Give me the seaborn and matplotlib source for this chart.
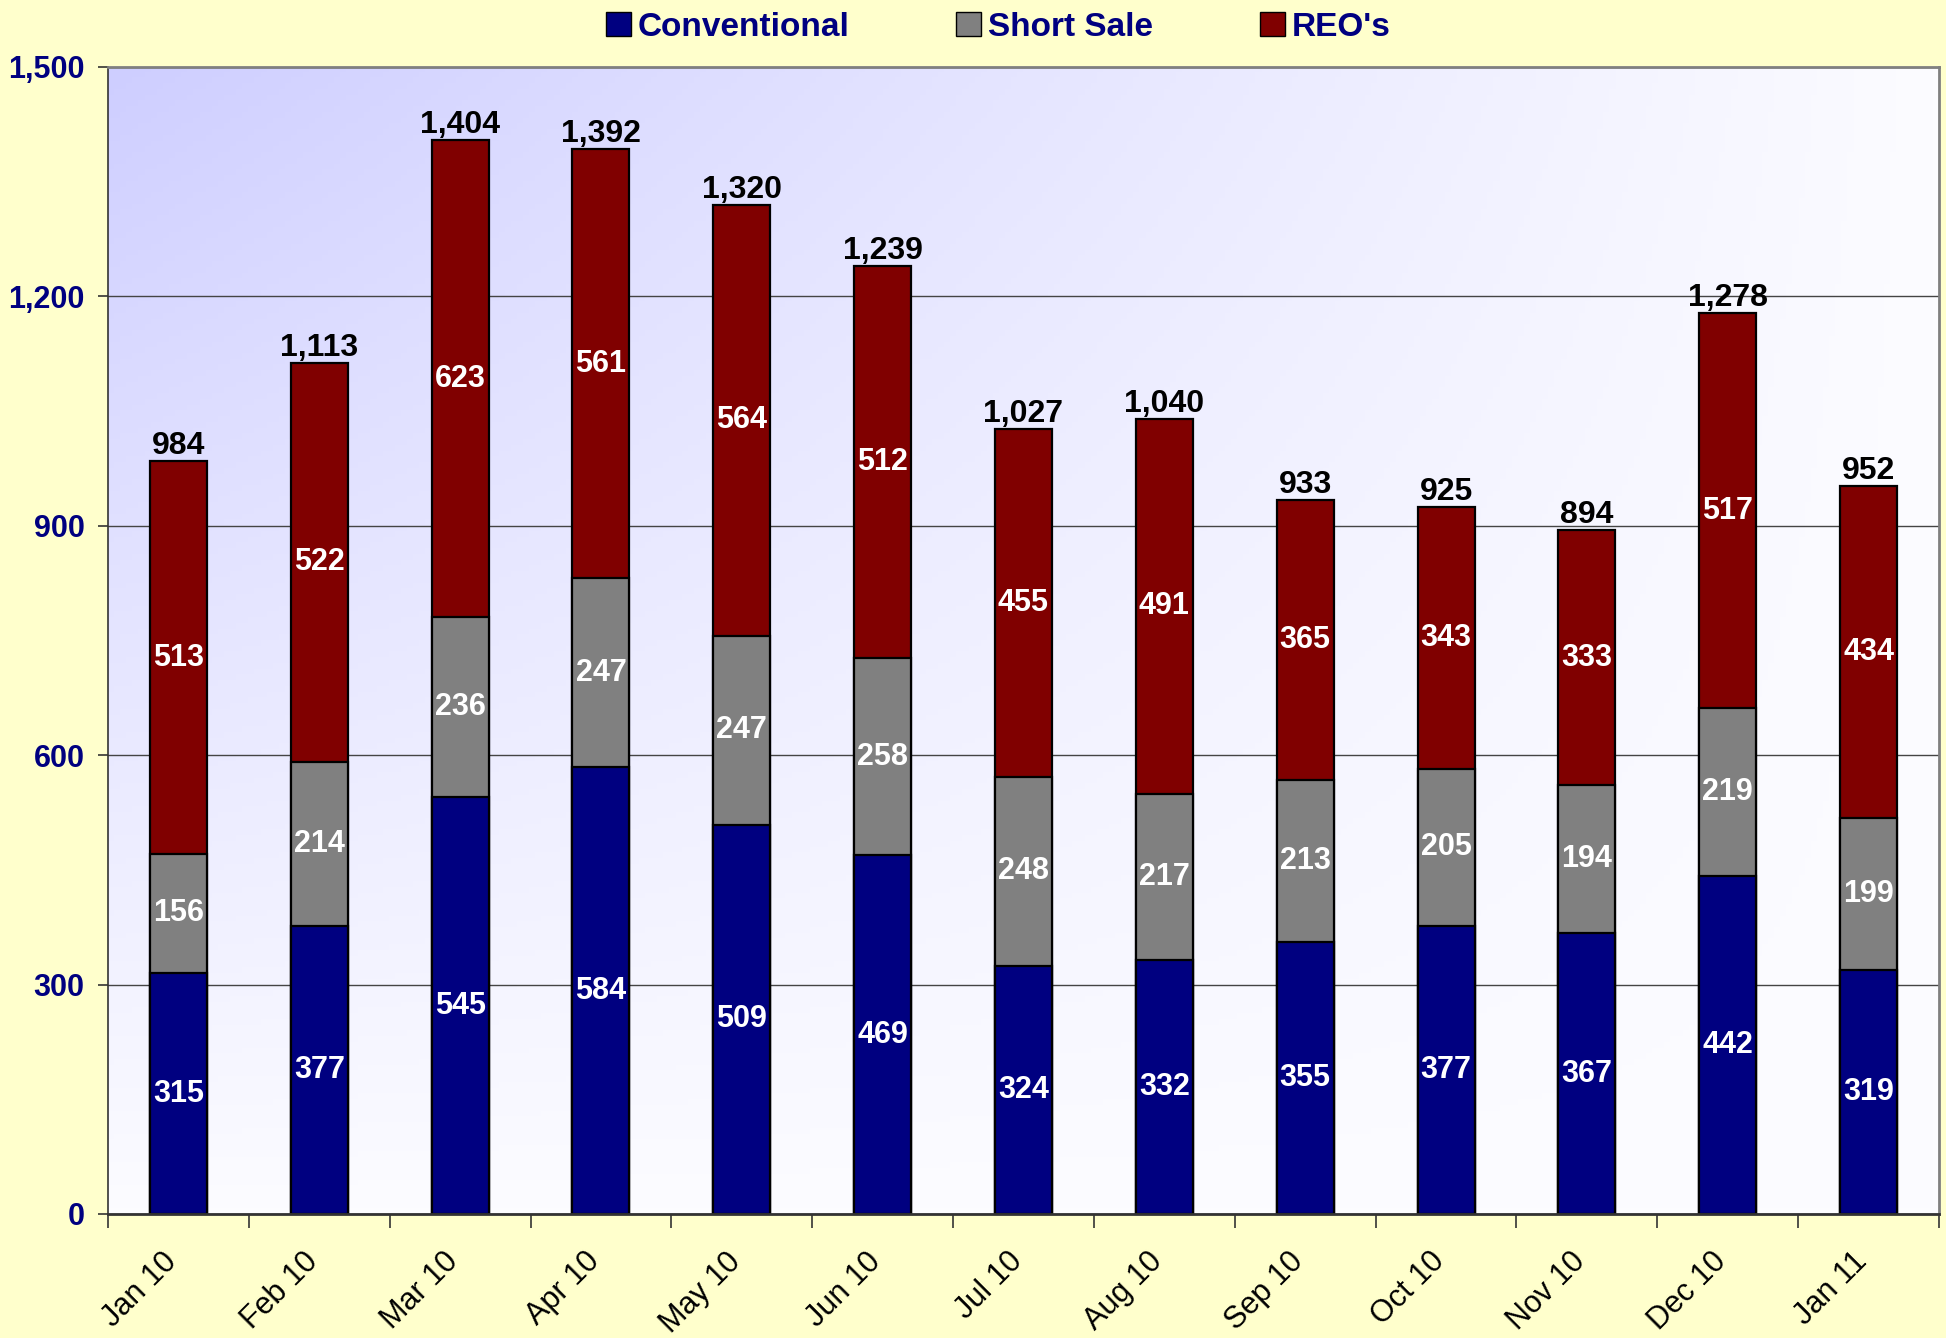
import numpy as np
import pandas as pd
import matplotlib
matplotlib.use("Agg")
import matplotlib.pyplot as plt
from matplotlib.patches import Patch
from matplotlib.ticker import FuncFormatter
from matplotlib.transforms import ScaledTranslation
import seaborn as sns

# data
months = ["Jan 10", "Feb 10", "Mar 10", "Apr 10", "May 10", "Jun 10", "Jul 10",
          "Aug 10", "Sep 10", "Oct 10", "Nov 10", "Dec 10", "Jan 11"]
conventional = [315, 377, 545, 584, 509, 469, 324, 332, 355, 377, 367, 442, 319]
short_sale = [156, 214, 236, 247, 247, 258, 248, 217, 213, 205, 194, 219, 199]
reos = [513, 522, 623, 561, 564, 512, 455, 491, 365, 343, 333, 517, 434]
# total labels as printed on the chart (Dec 10 label differs from the sum)
total_labels = [984, 1113, 1404, 1392, 1320, 1239, 1027, 1040, 933, 925, 894, 1278, 952]

NAVY = "#000080"
GREY = "#808080"
MAROON = "#800000"

sns.set_style("white")
plt.rcParams["font.family"] = ["Liberation Sans", "DejaVu Sans"]

df = pd.DataFrame({"month": months, "conv": conventional, "short": short_sale, "reo": reos})
df["conv_short"] = df["conv"] + df["short"]
df["top"] = df["conv_short"] + df["reo"]

fig = plt.figure(figsize=(19.46, 13.38), dpi=100, facecolor="#FFFFCC")
ax = fig.add_axes([0.0555, 0.0927, 0.9409, 0.8573])

# gradient plot background (lavender top-left fading to white)
h, w = 200, 300
u = np.linspace(0, 1, w)[None, :]
v = np.linspace(0, 1, h)[:, None]
t = 1 - (1 - u) * (1 - v)
c0 = np.array([206, 206, 255]) / 255
c1 = np.array([252, 252, 255]) / 255
grad = c0[None, None, :] * (1 - t[..., None]) + c1[None, None, :] * t[..., None]
ax.imshow(grad, extent=(-0.5, 12.5, 0, 1500), aspect="auto", origin="upper", zorder=0)

bar_kw = dict(width=0.405, edgecolor="black", linewidth=1.6, saturation=1, ax=ax, zorder=2)
sns.barplot(data=df, x="month", y="top", color=MAROON, **bar_kw)
sns.barplot(data=df, x="month", y="conv_short", color=GREY, **bar_kw)
sns.barplot(data=df, x="month", y="conv", color=NAVY, **bar_kw)

ax.set_xlim(-0.5, 12.5)
ax.set_ylim(0, 1500)
ax.set_xlabel("")
ax.set_ylabel("")

# segment labels
for i, row in df.iterrows():
    ax.text(i, row["conv"] / 2, f"{row['conv']}", ha="center", va="center",
            color="white", fontsize=22, fontweight="bold", zorder=4)
    ax.text(i, row["conv"] + row["short"] / 2, f"{row['short']}", ha="center", va="center",
            color="white", fontsize=22, fontweight="bold", zorder=4)
    ax.text(i, row["conv_short"] + row["reo"] / 2, f"{row['reo']}", ha="center", va="center",
            color="white", fontsize=22, fontweight="bold", zorder=4)
    ax.text(i, row["top"], f"{total_labels[i]:,}", ha="center", va="bottom",
            color="black", fontsize=23, fontweight="bold", zorder=4)

# y axis
ax.set_yticks([0, 300, 600, 900, 1200, 1500])
ax.yaxis.set_major_formatter(FuncFormatter(lambda val, pos: f"{int(val):,}"))
ax.tick_params(axis="y", which="major", length=7, width=1.2, color="#333333",
               labelsize=22, labelcolor=NAVY, pad=10, left=True)
for lab in ax.get_yticklabels():
    lab.set_fontweight("bold")
ax.yaxis.grid(True, color="#444444", linewidth=1.0)
ax.set_axisbelow(True)

# x axis: ticks at category boundaries, labels at centres
ax.set_xticks(np.arange(-0.5, 13, 1))
ax.set_xticklabels([])
ax.set_xticks(np.arange(len(months)), minor=True)
ax.set_xticklabels(months, minor=True, rotation=45, ha="right", va="center",
                   rotation_mode="anchor", fontsize=22, color="black")
ax.tick_params(axis="x", which="major", length=10, width=1.2, color="#333333", bottom=True)
ax.tick_params(axis="x", which="minor", length=0, pad=31)
shift = ScaledTranslation(-6 / 100, 0, fig.dpi_scale_trans)
for lab in ax.get_xticklabels(minor=True):
    lab.set_transform(lab.get_transform() + shift)

for side in ["top", "right"]:
    ax.spines[side].set_color("#808080")
    ax.spines[side].set_linewidth(2)
ax.spines["left"].set_color("#333333")
ax.spines["left"].set_linewidth(1.2)
ax.spines["bottom"].set_color("#333333")
ax.spines["bottom"].set_linewidth(2)

handles = [Patch(facecolor=NAVY, edgecolor="black", label="Conventional"),
           Patch(facecolor=GREY, edgecolor="black", label="Short Sale"),
           Patch(facecolor=MAROON, edgecolor="black", label="REO's")]
leg = fig.legend(handles=handles, loc="center", bbox_to_anchor=(0.513, 1 - 27 / 1338),
                 ncol=3, frameon=False, fontsize=24, handlelength=0.75, handleheight=0.75,
                 handletextpad=0.2, columnspacing=3.2)
for txt in leg.get_texts():
    txt.set_color(NAVY)
    txt.set_fontweight("bold")

fig.savefig("out.png", dpi=100, facecolor=fig.get_facecolor())
